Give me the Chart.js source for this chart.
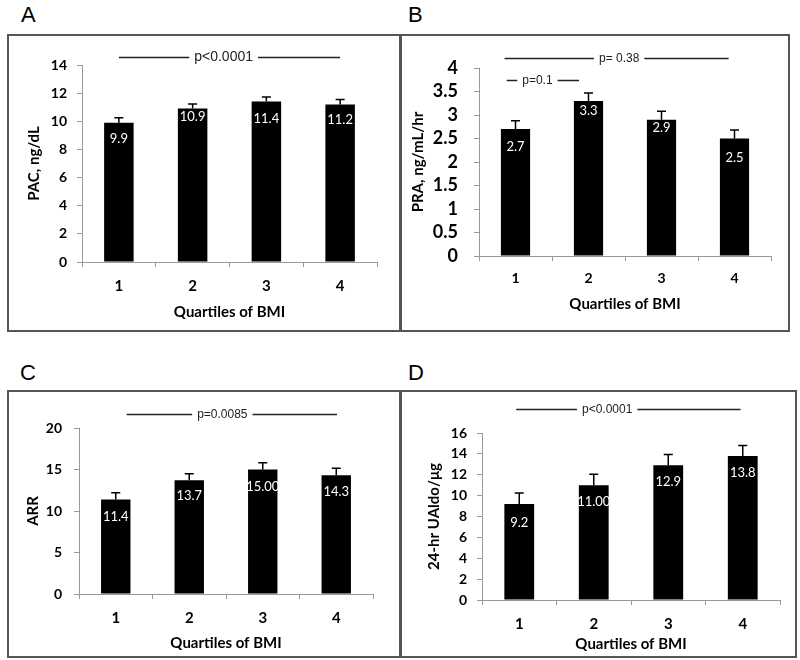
<!DOCTYPE html>
<html>
<head>
<meta charset="utf-8">
<script src="https://cdn.jsdelivr.net/npm/chart.js@4.4.1/dist/chart.umd.min.js"></script>
<style>
  body { margin: 0; background: #fff; width: 800px; height: 660px; position: relative; overflow: hidden; }
  .box { position: absolute; border: 2px solid #555; box-sizing: border-box; }
  .letter { position: absolute; font: 22px/1 "Liberation Sans", Arial, sans-serif; color: #000; }
  canvas { position: absolute; }
</style>
</head>
<body>
<div class="box" style="left:7px;top:34px;width:395px;height:298px"></div>
<div class="box" style="left:399px;top:34px;width:391px;height:298px"></div>
<div class="box" style="left:7px;top:390px;width:395px;height:268px"></div>
<div class="box" style="left:399px;top:390px;width:398px;height:268px"></div>

<div class="letter" style="left:21px;top:4px">A</div>
<div class="letter" style="left:408px;top:4px">B</div>
<div class="letter" style="left:20px;top:362px">C</div>
<div class="letter" style="left:408px;top:362px">D</div>

<canvas id="pacChart" width="390" height="295" style="left:9px;top:36px"></canvas>
<canvas id="praChart" width="387" height="295" style="left:401px;top:36px"></canvas>
<canvas id="arrChart" width="390" height="265" style="left:9px;top:392px"></canvas>
<canvas id="ualdoChart" width="393" height="265" style="left:401px;top:392px"></canvas>

<script>
const quartiles = ['1', '2', '3', '4'];

const pacMeans = [9.9, 10.9, 11.4, 11.2];
const pacErrors = [0.35, 0.33, 0.33, 0.35];
const pacLabels = ['9.9', '10.9', '11.4', '11.2'];

const praMeans = [2.7, 3.3, 2.9, 2.5];
const praErrors = [0.18, 0.17, 0.18, 0.18];
const praLabels = ['2.7', '3.3', '2.9', '2.5'];

const arrMeans = [11.4, 13.7, 15.0, 14.3];
const arrErrors = [0.8, 0.8, 0.8, 0.85];
const arrLabels = ['11.4', '13.7', '15.00', '14.3'];

const ualdoMeans = [9.2, 11.0, 12.9, 13.8];
const ualdoErrors = [1.05, 1.05, 1.05, 1.0];
const ualdoLabels = ['9.2', '11.00', '12.9', '13.8'];

// p-value brackets: category span (index units), text centre, height in axis units
const pacPValues = [{ text: 'p<0.0001', from: 0, to: 3, at: 1.42, y: 14.57 }];
const praPValues = [
  { text: 'p= 0.38', from: -0.15, to: 2.92, at: 1.42, y: 4.21 },
  { text: 'p=0.1', from: -0.12, to: 0.87, at: 0.3, y: 3.74 }
];
const arrPValues = [{ text: 'p=0.0085', from: 0.15, to: 3.01, at: 1.45, y: 21.7 }];
const ualdoPValues = [{ text: 'p<0.0001', from: -0.04, to: 2.97, at: 1.18, y: 18.3 }];

const FONT = 'Lato, "Open Sans", sans-serif';

const extrasPlugin = {
  id: 'extras',
  afterDatasetsDraw(chart, args, opts) {
    const { ctx } = chart;
    const x = chart.scales.x, y = chart.scales.y;
    const meta = chart.getDatasetMeta(0);
    ctx.save();

    // error bars (upper only) + value labels
    meta.data.forEach((bar, i) => {
      const top = y.getPixelForValue(opts.means[i] + opts.errors[i]);
      ctx.strokeStyle = '#000';
      ctx.lineWidth = 1.5;
      ctx.beginPath();
      ctx.moveTo(bar.x, bar.y);
      ctx.lineTo(bar.x, top);
      ctx.moveTo(bar.x - 4.5, top);
      ctx.lineTo(bar.x + 4.5, top);
      ctx.stroke();

      ctx.fillStyle = '#fff';
      ctx.font = '13px ' + FONT;
      ctx.textAlign = 'center';
      ctx.textBaseline = 'middle';
      ctx.fillText(opts.labels[i], bar.x, bar.y + opts.drops[i]);
    });

    // p-value lines with text in a gap
    ctx.font = opts.pFont + 'px "Liberation Sans", Arial, sans-serif';
    opts.pValues.forEach(p => {
      const py = Math.round(y.getPixelForValue(p.y)) + 0.5;
      const step = x.getPixelForValue(1) - x.getPixelForValue(0);
      const x0 = x.getPixelForValue(0) + p.from * step;
      const x1 = x.getPixelForValue(0) + p.to * step;
      const xc = x.getPixelForValue(0) + p.at * step;
      const half = ctx.measureText(p.text).width / 2;
      ctx.strokeStyle = '#222';
      ctx.lineWidth = 1.3;
      ctx.beginPath();
      ctx.moveTo(x0, py);
      ctx.lineTo(xc - half - 5, py);
      ctx.moveTo(xc + half + 5, py);
      ctx.lineTo(x1, py);
      ctx.stroke();
      ctx.fillStyle = '#222';
      ctx.textAlign = 'center';
      ctx.textBaseline = 'middle';
      ctx.fillText(p.text, xc, py);
    });
    ctx.restore();
  }
};

function buildPanel(id, means, errors, labels, drops, pValues, ax) {
  const ctx = document.getElementById(id).getContext('2d');
  return new Chart(ctx, {
    type: 'bar',
    data: {
      labels: quartiles,
      datasets: [{
        data: means,
        backgroundColor: '#000',
        borderWidth: 0,
        categoryPercentage: 1,
        barPercentage: 0.4
      }]
    },
    options: {
      responsive: false,
      animation: false,
      events: [],
      layout: { padding: { top: ax.padTop, right: ax.padRight, left: 0, bottom: 0 } },
      plugins: {
        legend: { display: false },
        tooltip: { enabled: false },
        extras: { means, errors, labels, drops, pValues, pFont: ax.pFont }
      },
      scales: {
        x: {
          grid: { offset: true, drawOnChartArea: false, tickLength: 5, color: '#999' },
          border: { color: '#999', width: 1 },
          ticks: { color: '#000', padding: ax.xTickPad, font: { family: FONT, weight: 'bold', size: ax.xTickSize } },
          title: {
            display: true, text: 'Quartiles of BMI', color: '#000',
            padding: { top: 0, bottom: ax.xTitlePad },
            font: { family: FONT, weight: 'bold', size: 15 }
          },
          afterFit: s => { s.height = ax.xHeight; }
        },
        y: {
          min: 0,
          max: ax.yMax,
          grid: { drawOnChartArea: false, tickLength: 5, color: '#999' },
          border: { color: '#999', width: 1 },
          ticks: {
            stepSize: ax.yStep,
            autoSkip: false,
            callback: v => String(v),
            color: '#000',
            padding: ax.yTickPad,
            font: { family: FONT, weight: 'bold', size: ax.yTickSize }
          },
          title: {
            display: true, text: ax.yTitle, color: '#000',
            padding: { top: ax.yTitlePad, bottom: 0 },
            font: { family: FONT, weight: 'bold', size: 15 }
          },
          afterFit: s => { s.width = ax.yWidth; }
        }
      }
    },
    plugins: [extrasPlugin]
  });
}

buildPanel('pacChart', pacMeans, pacErrors, pacLabels, [16, 8, 17, 15], pacPValues, {
  yMax: 14, yStep: 2, yTitle: 'PAC, ng/dL', yTickSize: 14, xTickSize: 15,
  padTop: 29, padRight: 22, yWidth: 73, xHeight: 69,
  yTickPad: 10, xTickPad: 10, yTitlePad: 16, xTitlePad: 10, pFont: 14
});

buildPanel('praChart', praMeans, praErrors, praLabels, [18, 10, 8, 19], praPValues, {
  yMax: 4, yStep: 0.5, yTitle: 'PRA, ng/mL/hr', yTickSize: 18, xTickSize: 14,
  padTop: 32, padRight: 17, yWidth: 78, xHeight: 75,
  yTickPad: 16, xTickPad: 9, yTitlePad: 8, xTitlePad: 18, pFont: 12
});

buildPanel('arrChart', arrMeans, arrErrors, arrLabels, [17, 16, 17, 17], arrPValues, {
  yMax: 20, yStep: 5, yTitle: 'ARR', yTickSize: 14, xTickSize: 15,
  padTop: 36, padRight: 26, yWidth: 70, xHeight: 63,
  yTickPad: 12, xTickPad: 10, yTitlePad: 15, xTitlePad: 5, pFont: 12
});

buildPanel('ualdoChart', ualdoMeans, ualdoErrors, ualdoLabels, [19, 17, 16, 17], ualdoPValues, {
  yMax: 16, yStep: 2, yTitle: '24-hr UAldo/μg', yTickSize: 14, xTickSize: 15,
  padTop: 41, padRight: 14, yWidth: 81, xHeight: 57,
  yTickPad: 10, xTickPad: 10, yTitlePad: 24, xTitlePad: 4, pFont: 12
});
</script>
</body>
</html>
